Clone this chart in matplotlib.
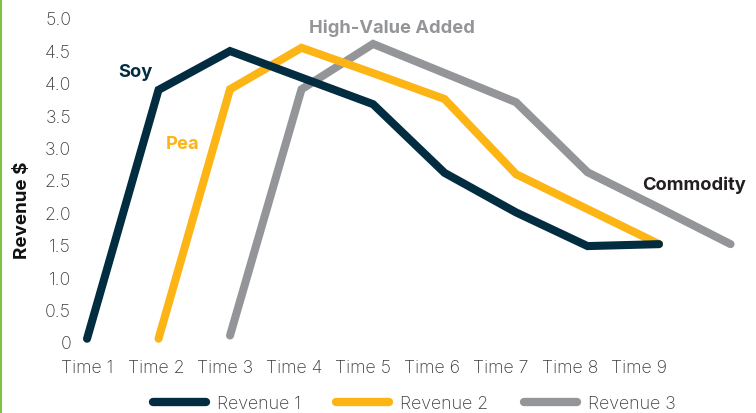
import numpy as np
import matplotlib
matplotlib.use("Agg")
import matplotlib.pyplot as plt
from matplotlib.lines import Line2D

# Data (x = time step index)
time_labels = ["Time 1", "Time 2", "Time 3", "Time 4", "Time 5",
               "Time 6", "Time 7", "Time 8", "Time 9"]

rev1_x = [0, 1, 2, 3, 4, 5, 6, 7, 8]
rev1_y = [0.05, 3.89, 4.49, 4.08, 3.67, 2.61, 2.00, 1.48, 1.51]

rev2_x = [1, 2, 3, 4, 5, 6, 7, 8]
rev2_y = [0.05, 3.90, 4.54, 4.15, 3.75, 2.59, 2.05, 1.51]

rev3_x = [2, 3, 4, 5, 6, 7, 8, 9]
rev3_y = [0.10, 3.90, 4.60, 4.15, 3.70, 2.62, 2.07, 1.51]

y_ticks = [0, 0.5, 1.0, 1.5, 2.0, 2.5, 3.0, 3.5, 4.0, 4.5, 5.0]
y_tick_labels = ["0", "0.5", "1.0", "1.5", "2.0", "2.5", "3.0", "3.5", "4.0", "4.5", "5.0"]

NAVY = "#022d41"
YELLOW = "#fdb515"
GREY = "#939598"
TEXT = "#3a3a3a"

plt.rcParams['font.family'] = ['Inter', 'DejaVu Sans']

fig = plt.figure(figsize=(7.56, 4.14), dpi=100)
ax = fig.add_axes([78 / 756, 71 / 414, 674 / 756, 324 / 414])

line_kw = dict(linewidth=5.8, solid_capstyle='round', solid_joinstyle='miter', clip_on=False)
ax.plot(rev3_x, rev3_y, color=GREY, zorder=2, label='Revenue 3', **line_kw)
ax.plot(rev2_x, rev2_y, color=YELLOW, zorder=3, label='Revenue 2', **line_kw)
ax.plot(rev1_x, rev1_y, color=NAVY, zorder=4, label='Revenue 1', **line_kw)

ax.set_xlim(-0.126, 9.3)
ax.set_ylim(0, 5.0)

# tick labels sit a little tighter than the data steps
ax.set_xticks(np.linspace(0, 7.72, len(time_labels)))
ax.set_xticklabels(time_labels)
ax.set_yticks(y_ticks)
ax.set_yticklabels(y_tick_labels)
ax.tick_params(axis='both', length=0, labelsize=12.8, labelcolor=TEXT)
ax.tick_params(axis='x', pad=12)
ax.tick_params(axis='y', pad=5)
for lbl in ax.get_xticklabels() + ax.get_yticklabels():
    lbl.set_fontweight('light')

for s in ax.spines.values():
    s.set_visible(False)

# Series annotations
bold = dict(fontsize=13.2, fontweight='bold', ha='center', va='center')
ax.text(0.67, 4.17, "Soy", color=NAVY, **bold)
ax.text(1.34, 3.06, "Pea", color=YELLOW, **bold)
ax.text(4.27, 4.86, "High-Value Added", color=GREY, **bold)
ax.text(8.49, 2.44, "Commodity", color="#231f20", **bold)

fig.text(23 / 756, 1 - 210 / 414, "Revenue $", rotation=90, ha='center', va='center',
         fontsize=13.5, fontweight='bold', color="#111111")

# Legend along the bottom
handles = [Line2D([], [], color=c, linewidth=6, solid_capstyle='round')
           for c in (NAVY, YELLOW, GREY)]
leg = fig.legend(handles, ["Revenue 1", "Revenue 2", "Revenue 3"], loc='center',
                 bbox_to_anchor=(414 / 756, 1 - 405 / 414), ncol=3, frameon=False,
                 handlelength=3.0, handletextpad=0.6, columnspacing=2.0,
                 prop={'size': 12.8, 'weight': 'light'})
for t in leg.get_texts():
    t.set_color(TEXT)

# thin green rule on the left edge
fig.add_artist(Line2D([0.001, 0.001], [0, 1], color="#7dc242", linewidth=1.5,
                      transform=fig.transFigure))

fig.savefig("out.png", dpi=100)
